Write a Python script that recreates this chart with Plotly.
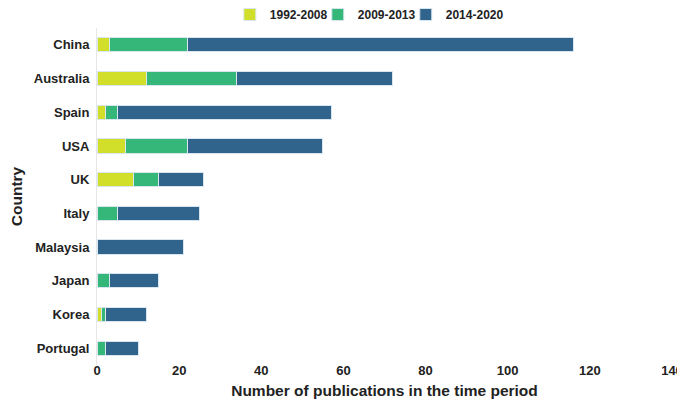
import plotly.graph_objects as go

countries = ["China", "Australia", "Spain", "USA", "UK", "Italy", "Malaysia", "Japan", "Korea", "Portugal"]
p1992_2008 = [3, 12, 2, 7, 9, 0, 0, 0, 1, 0]
p2009_2013 = [19, 22, 3, 15, 6, 5, 0, 3, 1, 2]
p2014_2020 = [94, 38, 52, 33, 11, 20, 21, 12, 10, 8]

series = [
    ("1992-2008", p1992_2008, "#d2df2a", "legend"),
    ("2009-2013", p2009_2013, "#35b779", "legend2"),
    ("2014-2020", p2014_2020, "#31648c", "legend3"),
]

fig = go.Figure()
for name, vals, col, lg in series:
    fig.add_trace(go.Bar(
        y=countries, x=vals, name="<b>" + name + "</b>", orientation="h",
        marker=dict(color=col, line=dict(color="#d8e6ef", width=1)),
        width=0.42, legend=lg,
    ))

font_col = "#222222"
fam = "Liberation Sans, Arial, sans-serif"


def leg(x):
    return dict(orientation="h", x=x, xanchor="left", y=0.997, yanchor="bottom",
                font=dict(size=12, color=font_col, family=fam),
                itemwidth=30, bgcolor="rgba(0,0,0,0)")


# page body has an 8px margin, so the figure is sized/offset to compensate
fig.update_layout(
    width=677, height=391,
    barmode="stack",
    plot_bgcolor="white", paper_bgcolor="white",
    margin=dict(l=89, r=13, t=20, b=34, autoexpand=False),
    font=dict(family=fam, size=13, color=font_col),
    showlegend=True,
    legend=leg(0.231),
    legend2=leg(0.384),
    legend3=leg(0.537),
    xaxis=dict(range=[0, 140], dtick=20, showgrid=False, zeroline=False, showline=False,
               tickfont=dict(size=13, color=font_col, family=fam),
               ticks="", ticklabelstandoff=-4, automargin=False,
               title=dict(text="<b>Number of publications in the time period</b>",
                          font=dict(size=15.5, color=font_col), standoff=12)),
    yaxis=dict(autorange="reversed", showgrid=False, zeroline=False,
               showline=True, linecolor="#e6e6e6", linewidth=1,
               ticks="", ticklabelstandoff=4, automargin=False,
               tickfont=dict(size=13, color=font_col),
               title=dict(text="<b>Country</b>", font=dict(size=15.5, color=font_col), standoff=10)),
)
fig.update_xaxes(tickprefix="<b>", ticksuffix="</b>")
fig.update_yaxes(tickprefix="<b>", ticksuffix="</b>")

fig.write_html("out.html")
